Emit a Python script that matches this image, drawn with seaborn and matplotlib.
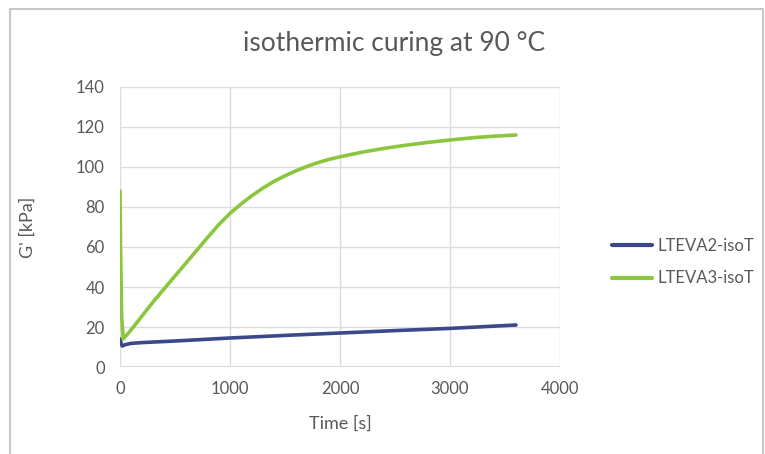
import matplotlib
matplotlib.use("Agg")
import matplotlib.pyplot as plt
import pandas as pd
import seaborn as sns
from matplotlib.patches import Rectangle

# values (time in s, G' in kPa)
t_eva2 = [0, 10, 20, 50, 100, 200, 500, 1000, 1500, 2000, 2500, 3000, 3600]
g_eva2 = [14, 12, 10.5, 11.2, 11.8, 12.2, 13, 14.5, 15.8, 17.0, 18.2, 19.3, 21.0]

t_eva3 = [0, 5, 15, 30, 100, 200, 300, 400, 500, 600, 700, 800, 900, 1000,
          1100, 1200, 1300, 1400, 1500, 1600, 1700, 1800, 1900, 2000, 2200,
          2400, 2600, 2800, 3000, 3200, 3400, 3600]
g_eva3 = [88, 60, 25, 14, 18.5, 25.5, 32.5, 39, 45.5, 52, 58.5, 65, 71.3, 76.8,
          81.5, 85.7, 89.5, 92.8, 95.6, 98.1, 100.3, 102.2, 103.8, 105.1, 107.4,
          109.3, 110.9, 112.3, 113.5, 114.6, 115.4, 116]

labels = ["LTEVA2-isoT", "LTEVA3-isoT"]
colors = ["#3b4889", "#8cc63f"]

df = pd.concat([
    pd.DataFrame({"Time": t_eva2, "G": g_eva2, "series": labels[0]}),
    pd.DataFrame({"Time": t_eva3, "G": g_eva3, "series": labels[1]}),
])

sns.set_style("white")
plt.rcParams["font.family"] = ["Lato", "DejaVu Sans"]
txt = "#595959"

fig = plt.figure(figsize=(7.65, 4.54), dpi=100)
# outer chart border
fig.patches.append(Rectangle((10 / 765, -0.1), 753 / 765, 1 - 9 / 454 + 0.1,
                             transform=fig.transFigure, fill=False,
                             edgecolor="#c8c8c8", linewidth=1.5))

ax = fig.add_axes([120 / 765, 1 - 367 / 454, 440 / 765, 280 / 454])
sns.lineplot(data=df, x="Time", y="G", hue="series", palette=colors,
             linewidth=2.6, ax=ax, legend=False, sort=False)

ax.set_xlim(0, 4000)
ax.set_ylim(0, 140)
ax.set_xticks(range(0, 4001, 1000))
ax.set_yticks(range(0, 141, 20))
ax.grid(True, color="#dcdcdc", linewidth=1.0)
for s in ax.spines.values():
    s.set_visible(False)
ax.axhline(0, color="#d0d0d0", linewidth=1.2, zorder=0)
ax.tick_params(colors=txt, labelsize=12, length=0)
ax.tick_params(axis="x", pad=10)
ax.tick_params(axis="y", pad=11)

ax.set_xlabel("Time [s]", color=txt, fontsize=13)
ax.set_ylabel("G' [kPa]", color=txt, fontsize=13)
ax.xaxis.set_label_coords(0.5, -0.203)
ax.xaxis.label.set_va("center")
ax.yaxis.set_label_coords(-0.209, 0.5)
ax.yaxis.label.set_va("center")

fig.text(394 / 765, 1 - 44 / 454, "isothermic curing at 90 °C", ha="center",
         va="center", color=txt, fontsize=19)

handles = [plt.Line2D([], [], color=c, linewidth=3) for c in colors]
fig.legend(handles, labels, loc="center left", bbox_to_anchor=(597 / 765, 1 - 262 / 454),
           frameon=False, fontsize=12, labelcolor=txt, handlelength=2.4,
           handletextpad=0.35, labelspacing=1.0)

fig.savefig("out.png", dpi=100)
